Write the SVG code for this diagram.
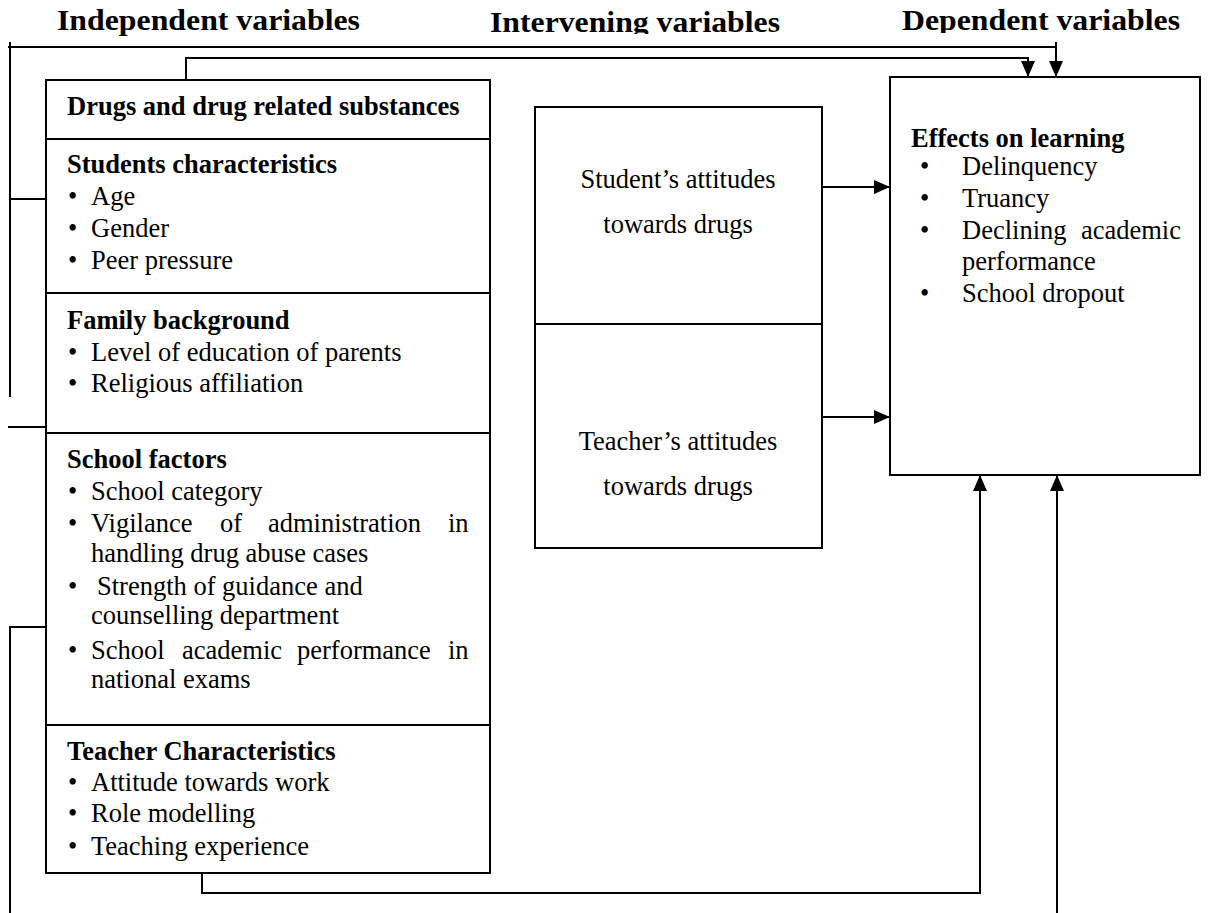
<svg xmlns="http://www.w3.org/2000/svg" width="1208" height="913" viewBox="0 0 1208 913">
<style>
.box{fill:#fff;stroke:#000;stroke-width:2}
.div{stroke:#000;stroke-width:2}
.ln{fill:none;stroke:#000;stroke-width:2}
text{font-family:"Liberation Serif","Times New Roman",serif;fill:#000}
.hd{font-size:30px;font-weight:bold}
.b{font-size:26.5px;font-weight:bold}
.t{font-size:26.5px}
</style>
<defs>
<marker id="ah" viewBox="0 0 16 14" refX="16" refY="7" markerWidth="16" markerHeight="14" markerUnits="userSpaceOnUse" orient="auto">
<path d="M0,0 L16,7 L0,14 z" fill="#000"/>
</marker>
<clipPath id="c1"><rect x="0" y="0" width="1208" height="34"/></clipPath>
<clipPath id="c2"><rect x="0" y="0" width="1208" height="33"/></clipPath>
</defs>
<rect width="1208" height="913" fill="#fff"/>
<g id="headers">
<text class="hd" x="57" y="30" textLength="303" lengthAdjust="spacingAndGlyphs">Independent variables</text>
<text class="hd" x="490" y="32" textLength="290" lengthAdjust="spacingAndGlyphs" clip-path="url(#c1)">Intervening variables</text>
<text class="hd" x="902" y="30" textLength="278" lengthAdjust="spacingAndGlyphs" clip-path="url(#c2)">Dependent variables</text>
</g>
<g id="connectors">
<path class="ln" d="M10,42 V397"/>
<path class="ln" d="M10,199 H46"/>
<path class="ln" d="M8,47 H1056"/>
<path class="ln" d="M1056,42 V77" marker-end="url(#ah)"/>
<path class="ln" d="M186,80 V58 H1028 V77" marker-end="url(#ah)"/>
<path class="ln" d="M8,427 H46"/>
<path class="ln" d="M10,913 V627 H46"/>
<path class="ln" d="M202,873 V893 H980 V475" marker-end="url(#ah)"/>
<path class="ln" d="M1057,913 V475" marker-end="url(#ah)"/>
<path class="ln" d="M822,187 H890" marker-end="url(#ah)"/>
<path class="ln" d="M822,417 H890" marker-end="url(#ah)"/>
</g>
<g id="independent">
<rect class="box" x="46" y="80" width="444" height="793"/>
<line class="div" x1="46" y1="139" x2="490" y2="139"/>
<line class="div" x1="46" y1="293" x2="490" y2="293"/>
<line class="div" x1="46" y1="433" x2="490" y2="433"/>
<line class="div" x1="46" y1="725" x2="490" y2="725"/>
<text class="b" x="67" y="115">Drugs and drug related substances</text>
<text class="b" x="67" y="173">Students characteristics</text>
<text class="t" x="68" y="205">•</text><text class="t" x="91" y="205">Age</text>
<text class="t" x="68" y="237">•</text><text class="t" x="91" y="237">Gender</text>
<text class="t" x="68" y="269">•</text><text class="t" x="91" y="269">Peer pressure</text>
<text class="b" x="67" y="329">Family background</text>
<text class="t" x="68" y="361">•</text><text class="t" x="91" y="361">Level of education of parents</text>
<text class="t" x="68" y="392">•</text><text class="t" x="91" y="392">Religious affiliation</text>
<text class="b" x="67" y="468">School factors</text>
<text class="t" x="68" y="500">•</text><text class="t" x="91" y="500">School category</text>
<text class="t" x="68" y="532">•</text>
<text class="t" y="532"><tspan x="91">Vigilance</tspan><tspan x="220">of</tspan><tspan x="268">administration</tspan><tspan x="448">in</tspan></text>
<text class="t" x="91" y="562">handling drug abuse cases</text>
<text class="t" x="68" y="595">•</text><text class="t" x="97" y="595">Strength of guidance and</text>
<text class="t" x="91" y="624">counselling department</text>
<text class="t" x="68" y="659">•</text>
<text class="t" y="659"><tspan x="91">School</tspan><tspan x="182">academic</tspan><tspan x="297">performance</tspan><tspan x="448">in</tspan></text>
<text class="t" x="91" y="688">national exams</text>
<text class="b" x="67" y="760">Teacher Characteristics</text>
<text class="t" x="68" y="791">•</text><text class="t" x="91" y="791">Attitude towards work</text>
<text class="t" x="68" y="822">•</text><text class="t" x="91" y="822">Role modelling</text>
<text class="t" x="68" y="855">•</text><text class="t" x="91" y="855">Teaching experience</text>
</g>
<g id="intervening">
<rect class="box" x="535" y="107" width="287" height="441"/>
<line class="div" x1="535" y1="324" x2="822" y2="324"/>
<text class="t" x="678" y="188" text-anchor="middle">Student’s attitudes</text>
<text class="t" x="678" y="233" text-anchor="middle">towards drugs</text>
<text class="t" x="678" y="450" text-anchor="middle">Teacher’s attitudes</text>
<text class="t" x="678" y="495" text-anchor="middle">towards drugs</text>
</g>
<g id="dependent">
<rect class="box" x="890" y="77" width="310" height="398"/>
<text class="b" x="911" y="147">Effects on learning</text>
<text class="t" x="920" y="175">•</text><text class="t" x="962" y="175">Delinquency</text>
<text class="t" x="920" y="207">•</text><text class="t" x="962" y="207">Truancy</text>
<text class="t" x="920" y="239">•</text><text class="t" x="962" y="239">Declining</text><text class="t" x="1181" y="239" text-anchor="end">academic</text>
<text class="t" x="962" y="270">performance</text>
<text class="t" x="920" y="302">•</text><text class="t" x="962" y="302">School dropout</text>
</g>
</svg>
